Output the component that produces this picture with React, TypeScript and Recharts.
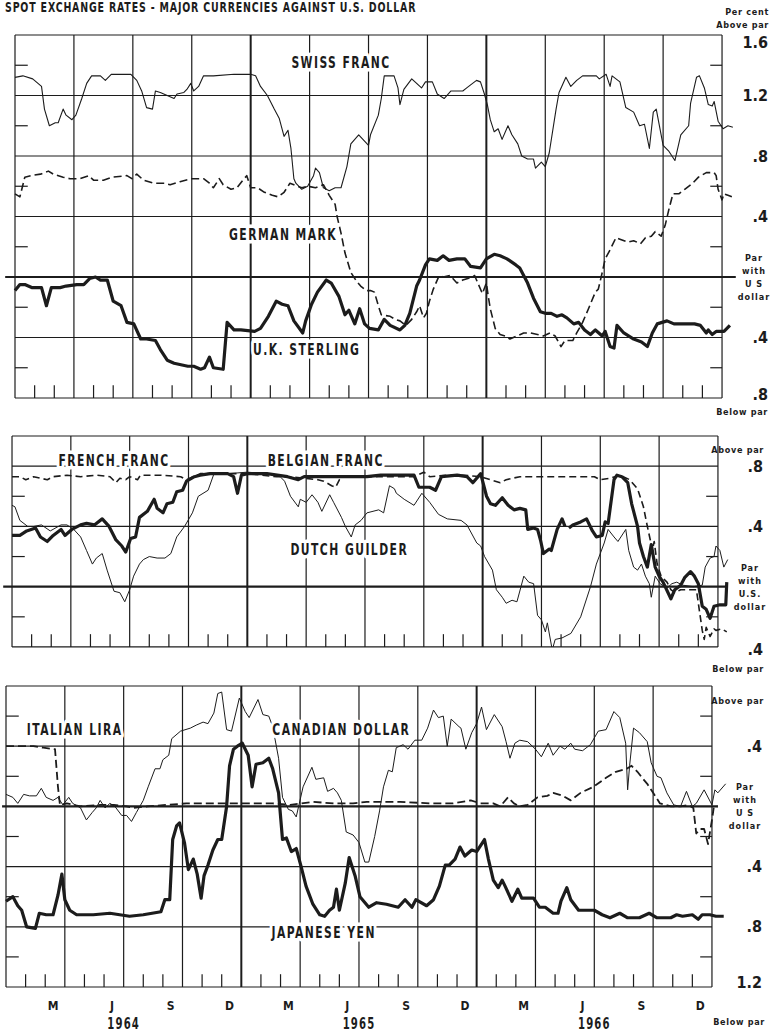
import React from "react";
import { LineChart, Line, XAxis, YAxis, ReferenceLine, ReferenceDot } from "recharts";

const INK = "#1c1c1c";
const FONT = "'Liberation Sans Narrow', 'DejaVu Sans Condensed', 'DejaVu Sans', sans-serif";

// x = months since 1 Jan 1964; y = per cent above (+) or below (-) par with the U.S. dollar
type Pt = [number, number | null];

const gridMonths = [0, 3, 6, 9, 12, 15, 18, 21, 24, 27, 30, 33, 36];
const yearEdges = [12, 24];
const monthLetters = ["M", "J", "S", "D"];
const monthTicks = [2.4, 5.4, 8.4, 11.4, 14.4, 17.4, 20.4, 23.4, 26.4, 29.4, 32.4, 35.4];
const yearLabels = ["1964", "1965", "1966"];
const yearTicks = [6, 18, 30];

const swissFranc: Pt[] = [
  [0, 1.32], [0.4, 1.33], [0.9, 1.31], [1.35, 1.26], [1.5, 1.11], [1.75, 1.0], [2.05, 1.02], [2.2, 1.02],
  [2.45, 1.11], [2.6, 1.07], [2.9, 1.04], [3.1, 1.07], [3.4, 1.18], [3.65, 1.28], [3.9, 1.33], [4.35, 1.33],
  [4.6, 1.3], [4.9, 1.34], [5.9, 1.34], [6.2, 1.3], [6.45, 1.23], [6.7, 1.12], [7.0, 1.11], [7.15, 1.23],
  [7.4, 1.22], [7.75, 1.2], [8.1, 1.18], [8.25, 1.21], [8.6, 1.22], [8.75, 1.24], [8.95, 1.28], [9.1, 1.23],
  [9.35, 1.26], [9.6, 1.33], [10.1, 1.33], [11.15, 1.34], [12.0, 1.34], [12.25, 1.33], [12.5, 1.26],
  [12.85, 1.2], [13.2, 1.11], [13.45, 1.05], [13.7, 0.93], [13.9, 0.97], [14.05, 0.85], [14.2, 0.65],
  [14.3, 0.62], [14.6, 0.58], [14.9, 0.6], [15.2, 0.67], [15.3, 0.72], [15.5, 0.69], [15.7, 0.59],
  [16.0, 0.57], [16.3, 0.59], [16.6, 0.59], [16.9, 0.73], [17.1, 0.88], [17.5, 0.94], [18.0, 0.87],
  [18.1, 0.94], [18.5, 1.07], [18.65, 1.18], [18.8, 1.33], [19.3, 1.33], [19.5, 1.25], [19.6, 1.14],
  [19.8, 1.24], [20.2, 1.31], [20.7, 1.25], [20.9, 1.29], [21.25, 1.29], [21.5, 1.21], [21.85, 1.18],
  [22.2, 1.23], [22.8, 1.23], [23.0, 1.25], [23.5, 1.3], [23.7, 1.29], [23.9, 1.21], [24.05, 1.14],
  [24.2, 1.04], [24.4, 0.96], [24.6, 0.98], [24.8, 0.91], [25.1, 1.0], [25.3, 0.94], [25.6, 0.88],
  [25.8, 0.8], [26.1, 0.78], [26.4, 0.78], [26.5, 0.72], [26.8, 0.76], [27.0, 0.73], [27.2, 0.82],
  [27.55, 1.11], [27.7, 1.22], [28.05, 1.32], [28.3, 1.26], [28.6, 1.3], [28.9, 1.33], [29.6, 1.33],
  [29.75, 1.31], [30.1, 1.34], [30.3, 1.26], [30.4, 1.33], [30.8, 1.29], [31.1, 1.12], [31.5, 1.09],
  [31.8, 1.0], [32.05, 1.01], [32.3, 0.85], [32.5, 1.09], [32.65, 1.11], [33.0, 0.87], [33.3, 0.83],
  [33.6, 0.77], [33.9, 0.94], [34.3, 1.0], [34.4, 1.15], [34.7, 1.32], [34.85, 1.33], [35.1, 1.25],
  [35.3, 1.14], [35.5, 1.13], [35.6, 1.16], [35.8, 1.03], [36.05, 0.98], [36.3, 1.0], [36.55, 0.99],
];

const germanMark: Pt[] = [
  [0, 0.55], [0.25, 0.53], [0.5, 0.66], [0.8, 0.67], [1.3, 0.68], [1.7, 0.7], [1.95, 0.68], [2.45, 0.66],
  [2.8, 0.65], [3.3, 0.65], [3.75, 0.67], [4.0, 0.64], [4.5, 0.64], [4.95, 0.66], [5.7, 0.67], [5.95, 0.65],
  [6.2, 0.68], [6.55, 0.64], [7.05, 0.62], [7.6, 0.62], [7.9, 0.61], [8.4, 0.63], [9.0, 0.65], [9.6, 0.65],
  [9.9, 0.62], [10.1, 0.59], [10.4, 0.65], [10.6, 0.61], [11.0, 0.58], [11.3, 0.59], [11.6, 0.64],
  [11.8, 0.67], [12.0, 0.59], [12.35, 0.59], [12.7, 0.56], [13.1, 0.54], [13.4, 0.53], [13.7, 0.56],
  [14.0, 0.62], [14.2, 0.61], [14.6, 0.59], [14.9, 0.6], [15.3, 0.59], [15.7, 0.61], [16.0, 0.54],
  [16.3, 0.48], [16.4, 0.4], [16.6, 0.29], [16.8, 0.16], [17.1, 0.03], [17.4, -0.03], [17.6, -0.06],
  [17.9, -0.09], [18.1, -0.09], [18.3, -0.1], [18.5, -0.19], [18.65, -0.25], [19.1, -0.26], [19.35, -0.28],
  [19.6, -0.29], [19.9, -0.32], [20.2, -0.28], [20.45, -0.23], [20.6, -0.19], [20.8, -0.27], [20.95, -0.24],
  [21.1, -0.16], [21.3, -0.08], [21.6, 0.01], [21.8, 0.0], [22.15, 0.01], [22.5, -0.04], [22.8, -0.02],
  [23.3, 0.0], [23.4, 0.01], [23.6, -0.05], [23.8, -0.11], [24.0, -0.04], [24.1, -0.13], [24.2, -0.21],
  [24.45, -0.34], [24.7, -0.38], [24.95, -0.39], [25.2, -0.41], [25.55, -0.39], [25.9, -0.37],
  [26.25, -0.37], [26.6, -0.38], [26.9, -0.39], [27.25, -0.37], [27.5, -0.39], [27.8, -0.46], [28.0, -0.42],
  [28.4, -0.42], [28.6, -0.37], [28.9, -0.3], [29.2, -0.21], [29.55, -0.1], [29.7, -0.08], [29.9, 0.03],
  [30.05, 0.12], [30.3, 0.18], [30.6, 0.26], [30.8, 0.25], [31.2, 0.23], [31.5, 0.24], [31.85, 0.22],
  [32.1, 0.26], [32.4, 0.27], [32.6, 0.3], [32.9, 0.27], [33.1, 0.34], [33.3, 0.45], [33.5, 0.55],
  [33.8, 0.55], [34.1, 0.58], [34.5, 0.62], [34.8, 0.66], [35.2, 0.69], [35.6, 0.69], [35.7, 0.67],
  [35.8, 0.58], [36.0, 0.51], [36.1, 0.55], [36.3, 0.54], [36.5, 0.53],
];

const ukSterling: Pt[] = [
  [0, -0.09], [0.25, -0.05], [0.5, -0.05], [0.85, -0.07], [1.35, -0.07], [1.6, -0.19], [1.85, -0.07],
  [2.3, -0.07], [2.6, -0.06], [3.15, -0.05], [3.5, -0.05], [3.8, -0.01], [4.1, 0.0], [4.35, -0.02],
  [4.7, -0.02], [5.0, -0.16], [5.4, -0.19], [5.7, -0.3], [6.05, -0.31], [6.4, -0.41], [6.7, -0.41],
  [7.15, -0.42], [7.4, -0.48], [7.75, -0.55], [8.1, -0.57], [8.8, -0.59], [9.1, -0.59], [9.45, -0.61],
  [9.65, -0.6], [9.9, -0.53], [10.1, -0.6], [10.6, -0.61], [10.8, -0.3], [11.15, -0.35], [11.5, -0.35],
  [12.2, -0.36], [12.5, -0.34], [12.9, -0.26], [13.3, -0.16], [13.6, -0.18], [13.9, -0.19], [14.2, -0.29],
  [14.65, -0.37], [14.8, -0.29], [15.1, -0.18], [15.4, -0.1], [15.85, -0.02], [16.1, -0.04], [16.5, -0.13],
  [16.8, -0.25], [17.0, -0.22], [17.3, -0.31], [17.55, -0.21], [17.8, -0.31], [18.05, -0.34], [18.5, -0.35],
  [18.8, -0.28], [19.1, -0.32], [19.6, -0.35], [19.85, -0.32], [20.1, -0.24], [20.45, -0.06], [20.6, -0.02],
  [20.9, 0.08], [21.1, 0.12], [21.5, 0.11], [21.8, 0.14], [22.1, 0.11], [22.5, 0.12], [22.9, 0.12],
  [23.2, 0.07], [23.7, 0.06], [24.0, 0.12], [24.4, 0.15], [24.7, 0.14], [25.05, 0.12], [25.5, 0.08],
  [25.7, 0.06], [26.1, -0.04], [26.4, -0.14], [26.75, -0.23], [27.0, -0.24], [27.3, -0.24], [27.6, -0.26],
  [27.85, -0.25], [28.1, -0.27], [28.45, -0.31], [28.7, -0.3], [29.0, -0.35], [29.3, -0.38], [29.55, -0.35],
  [29.9, -0.39], [30.05, -0.36], [30.3, -0.46], [30.5, -0.47], [30.65, -0.32], [31.0, -0.37], [31.5, -0.41],
  [31.9, -0.43], [32.2, -0.46], [32.45, -0.37], [32.7, -0.31], [33.2, -0.29], [33.55, -0.31], [33.9, -0.31],
  [34.6, -0.31], [34.9, -0.32], [35.2, -0.37], [35.3, -0.35], [35.5, -0.38], [35.7, -0.36], [36.1, -0.36],
  [36.4, -0.32],
];

const frenchFranc: Pt[] = [
  [0, 0.73], [0.4, 0.73], [0.7, 0.71], [1.1, 0.73], [1.8, 0.71], [2.1, 0.73], [2.8, 0.74], [3.5, 0.73],
  [4.3, 0.74], [5.0, 0.73], [5.3, 0.69], [5.5, 0.72], [5.8, 0.71], [6.0, 0.73], [6.4, 0.71], [6.55, 0.74],
  [7.6, 0.74], [8.6, 0.73], [8.9, 0.71], [9.6, 0.75], [11.0, 0.75], [12.0, 0.75], [13.5, 0.73], [14.2, 0.73],
  [15.6, 0.71], [15.9, 0.7], [16.3, 0.67], [16.5, 0.66], [16.7, 0.71], [16.9, 0.73], [18.8, 0.73],
  [20.5, 0.73], [21.0, 0.76], [21.3, 0.73], [22.2, 0.74], [23.0, 0.74], [23.9, 0.73], [24.4, 0.71],
  [24.9, 0.69], [25.2, 0.71], [25.9, 0.73], [26.8, 0.73], [27.6, 0.73], [29.0, 0.73], [29.7, 0.73],
  [30.0, 0.71], [30.5, 0.72], [31.0, 0.74], [31.5, 0.71], [31.9, 0.65], [32.2, 0.53], [32.4, 0.4],
  [32.55, 0.31], [32.65, 0.24], [32.75, 0.3], [32.9, 0.15], [33.1, 0.07], [33.4, 0.03], [33.6, -0.02],
  [33.8, -0.04], [34.1, -0.02], [34.9, -0.02], [35.2, -0.29], [35.3, -0.35], [35.4, -0.27], [35.6, -0.33],
  [35.8, -0.28], [35.9, -0.29], [36.2, -0.28], [36.45, -0.3],
];

const belgianFranc: Pt[] = [
  [0, 0.34], [0.4, 0.34], [0.75, 0.37], [1.2, 0.39], [1.45, 0.33], [1.8, 0.3], [2.1, 0.34], [2.5, 0.38],
  [2.7, 0.34], [3.05, 0.38], [3.5, 0.41], [3.8, 0.42], [4.2, 0.41], [4.6, 0.45], [4.95, 0.4], [5.3, 0.31],
  [5.6, 0.27], [5.8, 0.23], [6.05, 0.32], [6.3, 0.33], [6.5, 0.46], [6.9, 0.5], [7.25, 0.58], [7.4, 0.52],
  [7.7, 0.49], [7.9, 0.55], [8.2, 0.56], [8.4, 0.63], [8.7, 0.64], [8.9, 0.7], [9.3, 0.73], [9.6, 0.74],
  [10.1, 0.75], [11.0, 0.75], [11.3, 0.73], [11.5, 0.62], [11.7, 0.74], [12.0, 0.75], [13.0, 0.75],
  [14.05, 0.73], [14.6, 0.71], [14.9, 0.73], [15.75, 0.73], [16.4, 0.73], [18.1, 0.73], [18.8, 0.74],
  [20.5, 0.74], [20.75, 0.66], [21.3, 0.66], [21.6, 0.64], [21.9, 0.73], [22.7, 0.74], [23.2, 0.73],
  [23.5, 0.69], [23.9, 0.75], [24.2, 0.6], [24.4, 0.55], [24.65, 0.54], [25.0, 0.59], [25.3, 0.54],
  [25.6, 0.51], [25.9, 0.52], [26.2, 0.51], [26.3, 0.38], [26.6, 0.39], [26.8, 0.38], [26.95, 0.31],
  [27.1, 0.22], [27.4, 0.25], [27.5, 0.24], [27.8, 0.38], [28.05, 0.45], [28.2, 0.4], [28.3, null],
  [28.4, 0.39], [28.6, 0.41], [29.0, 0.43], [29.3, 0.45], [29.6, 0.37], [29.8, 0.33], [30.1, 0.34],
  [30.25, 0.43], [30.4, 0.42], [30.7, 0.71], [30.85, 0.74], [31.1, 0.73], [31.4, 0.69], [31.6, 0.55],
  [31.9, 0.4], [32.0, 0.29], [32.2, 0.2], [32.4, 0.13], [32.6, 0.28], [32.8, 0.13], [33.0, 0.07],
  [33.2, 0.03], [33.6, -0.08], [33.8, -0.02], [34.1, 0.01], [34.3, 0.06], [34.6, 0.1], [34.8, 0.07],
  [35.0, 0.02], [35.2, -0.13], [35.4, -0.15], [35.6, -0.21], [35.8, -0.13], [36.1, -0.12], [36.4, -0.12],
  [36.45, 0.03],
];

const dutchGuilder: Pt[] = [
  [0, 0.54], [0.15, 0.53], [0.4, 0.44], [0.8, 0.4], [1.1, 0.4], [1.5, 0.41], [1.95, 0.37], [2.5, 0.41],
  [2.8, 0.41], [3.15, 0.38], [3.5, 0.33], [3.8, 0.24], [4.1, 0.15], [4.3, 0.19], [4.6, 0.22], [4.85, 0.11],
  [5.2, -0.03], [5.5, -0.04], [5.75, -0.1], [6.0, -0.02], [6.2, 0.07], [6.5, 0.15], [6.7, 0.18], [7.0, 0.2],
  [7.4, 0.19], [7.8, 0.19], [8.1, 0.22], [8.4, 0.33], [8.8, 0.4], [9.2, 0.49], [9.5, 0.6], [10.0, 0.64],
  [10.3, 0.75], [11.0, 0.75], [12.0, 0.76], [13.0, 0.75], [13.6, 0.74], [13.9, 0.7], [14.2, 0.6],
  [14.6, 0.53], [14.7, 0.58], [15.0, 0.56], [15.3, 0.61], [15.6, 0.56], [15.8, 0.5], [16.2, 0.61],
  [16.4, 0.56], [16.8, 0.46], [17.0, 0.4], [17.3, 0.33], [17.5, 0.41], [17.8, 0.44], [18.1, 0.49],
  [18.7, 0.51], [18.95, 0.49], [19.25, 0.67], [19.5, 0.65], [19.6, 0.62], [20.0, 0.58], [20.5, 0.54],
  [20.9, 0.62], [21.3, 0.56], [21.75, 0.48], [22.2, 0.45], [22.9, 0.44], [23.2, 0.41], [23.7, 0.29],
  [23.9, 0.27], [24.1, 0.2], [24.5, 0.11], [24.7, -0.02], [25.0, -0.07], [25.2, -0.11], [25.5, -0.09],
  [25.75, -0.1], [26.1, 0.07], [26.35, 0.03], [26.6, 0.02], [26.8, -0.19], [27.0, -0.22], [27.2, -0.3],
  [27.3, -0.24], [27.55, -0.42], [27.7, -0.35], [28.05, -0.34], [28.5, -0.31], [29.0, -0.2], [29.5, 0.0],
  [29.8, 0.15], [30.2, 0.29], [30.4, 0.38], [30.7, 0.33], [30.9, 0.3], [31.3, 0.38], [31.45, 0.24],
  [31.7, 0.13], [31.9, 0.11], [32.1, 0.15], [32.3, 0.07], [32.5, 0.02], [32.6, -0.07], [32.8, 0.07],
  [33.05, 0.02], [33.4, -0.01], [33.65, 0.02], [33.9, 0.03], [34.2, 0.01], [34.75, 0.0], [35.2, 0.01],
  [35.35, 0.13], [35.6, 0.19], [35.8, 0.2], [35.9, 0.27], [36.1, 0.24], [36.3, 0.13], [36.5, 0.18],
];

const italianLira: Pt[] = [
  [0, 0.4], [0.7, 0.4], [1.4, 0.4], [1.9, 0.39], [2.5, 0.38], [2.65, 0.13], [2.75, 0.01], [3.1, 0.02],
  [3.8, 0.0], [4.8, 0.01], [5.5, 0.01], [6.15, 0.0], [6.5, -0.01], [7.2, 0.0], [8.2, 0.01], [9.2, 0.02],
  [10.2, 0.02], [11.6, 0.02], [12.6, 0.02], [13.6, 0.02], [14.5, 0.01], [15.65, 0.03], [16.7, 0.02],
  [17.7, 0.02], [18.4, 0.03], [20.1, 0.03], [21.6, 0.02], [22.8, 0.02], [23.7, 0.04], [24.2, 0.02],
  [24.85, 0.02], [25.2, 0.0], [25.6, 0.06], [25.9, 0.02], [26.2, 0.0], [26.6, 0.01], [27.1, 0.06],
  [27.6, 0.07], [27.9, 0.09], [28.4, 0.07], [28.8, 0.04], [29.3, 0.09], [29.95, 0.13], [30.6, 0.19],
  [31.1, 0.23], [31.65, 0.25], [31.9, 0.27], [32.2, 0.23], [32.5, 0.18], [32.7, 0.15], [33.0, 0.09],
  [33.35, 0.02], [33.9, 0.0], [34.4, 0.0], [34.8, 0.01], [35.05, -0.01], [35.2, -0.18], [35.4, -0.15],
  [35.6, -0.15], [35.8, -0.25], [36.0, -0.09], [36.1, 0.0], [36.3, 0.0],
];

const canadianDollar: Pt[] = [
  [0, 0.08], [0.35, 0.06], [0.6, 0.02], [0.9, 0.08], [1.2, 0.07], [1.55, 0.07], [1.8, 0.12], [2.05, 0.06],
  [2.4, 0.04], [2.65, 0.06], [2.9, 0.01], [3.2, 0.06], [3.4, 0.02], [3.8, -0.01], [4.1, -0.09], [4.4, -0.04],
  [4.6, -0.01], [4.8, 0.04], [5.05, -0.01], [5.3, 0.02], [5.55, 0.0], [5.9, -0.06], [6.15, -0.06],
  [6.4, -0.1], [6.65, -0.04], [7.0, 0.04], [7.25, 0.13], [7.6, 0.25], [7.85, 0.25], [8.0, 0.31], [8.3, 0.34],
  [8.45, 0.45], [8.9, 0.5], [9.4, 0.52], [9.7, 0.54], [10.05, 0.56], [10.3, 0.55], [10.6, 0.62], [10.8, 0.75],
  [11.0, 0.76], [11.25, 0.51], [11.5, 0.5], [11.9, 0.72], [12.2, 0.63], [12.4, 0.59], [12.85, 0.71],
  [13.1, 0.61], [13.4, 0.6], [13.6, 0.53], [13.9, 0.32], [14.1, 0.06], [14.4, -0.02], [14.6, -0.03],
  [14.8, -0.07], [15.15, 0.13], [15.6, 0.26], [15.8, 0.18], [16.2, 0.19], [16.4, 0.1], [16.7, 0.12],
  [16.9, 0.09], [17.1, 0.04], [17.35, -0.17], [17.7, -0.19], [18.0, -0.24], [18.3, -0.37], [18.5, -0.37],
  [18.8, -0.2], [19.05, -0.03], [19.25, 0.13], [19.5, 0.24], [19.7, 0.23], [19.9, 0.39], [20.25, 0.41],
  [20.5, 0.38], [20.85, 0.44], [21.2, 0.44], [21.5, 0.52], [21.8, 0.64], [22.05, 0.59], [22.3, 0.6],
  [22.5, 0.4], [22.7, 0.58], [23.1, 0.53], [23.2, 0.52], [23.45, 0.38], [23.75, 0.49], [24.0, 0.55],
  [24.25, 0.66], [24.5, 0.51], [24.9, 0.61], [25.3, 0.53], [25.5, 0.43], [25.7, 0.32], [25.95, 0.42],
  [26.2, 0.44], [26.6, 0.43], [27.0, 0.38], [27.3, 0.33], [27.65, 0.42], [27.9, 0.34], [28.25, 0.4],
  [28.5, 0.38], [28.8, 0.42], [29.0, 0.38], [29.4, 0.37], [29.8, 0.41], [30.2, 0.5], [30.6, 0.51],
  [31.0, 0.63], [31.3, 0.59], [31.6, 0.42], [31.7, 0.11], [31.8, 0.27], [32.0, 0.52], [32.3, 0.49],
  [32.7, 0.43], [32.9, 0.29], [33.2, 0.2], [33.4, 0.19], [33.7, 0.09], [34.05, 0.01], [34.4, 0.0],
  [34.7, 0.1], [35.0, 0.0], [35.2, 0.02], [35.6, 0.11], [36.0, 0.01], [36.15, 0.11], [36.3, 0.09],
  [36.7, 0.15],
];

const japaneseYen: Pt[] = [
  [0, -0.63], [0.35, -0.6], [0.6, -0.66], [0.8, -0.69], [1.05, -0.8], [1.5, -0.81], [1.7, -0.71],
  [2.05, -0.72], [2.4, -0.72], [2.65, -0.59], [2.85, -0.45], [3.0, -0.62], [3.25, -0.69], [3.6, -0.72],
  [4.45, -0.72], [5.3, -0.71], [5.8, -0.72], [6.3, -0.73], [7.0, -0.72], [7.9, -0.7], [8.1, -0.62],
  [8.35, -0.62], [8.5, -0.22], [8.7, -0.13], [8.85, -0.11], [9.1, -0.24], [9.3, -0.42], [9.55, -0.35],
  [9.75, -0.45], [9.95, -0.61], [10.1, -0.46], [10.3, -0.39], [10.55, -0.29], [10.8, -0.22], [11.0, -0.22],
  [11.25, 0.0], [11.4, 0.27], [11.6, 0.38], [11.8, 0.4], [12.05, 0.42], [12.35, 0.34], [12.55, 0.13],
  [12.75, 0.28], [13.1, 0.29], [13.4, 0.32], [13.6, 0.25], [13.9, 0.09], [14.1, -0.22], [14.3, -0.21],
  [14.55, -0.3], [14.8, -0.28], [15.05, -0.4], [15.3, -0.53], [15.65, -0.65], [16.0, -0.72], [16.25, -0.73],
  [16.5, -0.69], [16.7, -0.67], [16.85, -0.55], [17.0, -0.69], [17.3, -0.51], [17.5, -0.34], [17.8, -0.46],
  [18.05, -0.6], [18.5, -0.67], [18.9, -0.64], [19.4, -0.65], [20.0, -0.67], [20.35, -0.62], [20.7, -0.67],
  [20.9, -0.62], [21.45, -0.66], [21.8, -0.62], [22.1, -0.53], [22.4, -0.39], [22.6, -0.39], [22.9, -0.35],
  [23.15, -0.27], [23.4, -0.33], [23.75, -0.29], [24.0, -0.3], [24.4, -0.22], [24.6, -0.35], [24.85, -0.49],
  [25.1, -0.54], [25.3, -0.49], [25.45, -0.53], [25.8, -0.63], [26.1, -0.55], [26.3, -0.61], [26.9, -0.61],
  [27.2, -0.67], [27.5, -0.67], [27.9, -0.71], [28.15, -0.71], [28.3, -0.63], [28.6, -0.54], [28.8, -0.62],
  [29.2, -0.69], [30.0, -0.69], [30.4, -0.72], [30.8, -0.74], [31.3, -0.71], [31.7, -0.74], [32.3, -0.74],
  [32.8, -0.71], [33.2, -0.74], [33.9, -0.74], [34.2, -0.72], [34.5, -0.73], [35.0, -0.72], [35.3, -0.75],
  [35.5, -0.72], [35.9, -0.72], [36.2, -0.73], [36.6, -0.73],
];

type Series = { name: string; pts: Pt[]; w: number; dash?: string };
type Tag = { text: string; x: number; y: number };
type Note = { text: string; right: number; y: number };
type Panel = {
  top: number; x0: number; xs: number; xMin: number;
  yMin: number; yMax: number; ppu: number;
  majors: number[]; minors: number[]; ticks: number[];
  parFrom: number; parTo: number;
  labelRight: number; parCenter: number; parWords: string[];
  topShift: number; bottomShift: number;
  series: Series[]; tags: Tag[]; notes: Note[]; axis?: boolean;
};

const panels: Panel[] = [
  {
    top: 35, x0: 15, xs: 19.64, xMin: -0.6, yMin: -0.8, yMax: 1.6, ppu: 151.25,
    majors: [-0.8, -0.4, 0.4, 0.8, 1.2, 1.6], minors: [-0.6, -0.2, 0.2, 0.6, 1.0, 1.4],
    ticks: [-0.8, -0.4, 0, 0.4, 0.8, 1.2, 1.6], parFrom: -0.5, parTo: 36.7,
    labelRight: 768, parCenter: 754, parWords: ["Par", "with", "U S", "dollar"], topShift: 7, bottomShift: -4,
    series: [
      { name: "Swiss franc", pts: swissFranc, w: 1.1 },
      { name: "German mark", pts: germanMark, w: 1.6, dash: "8 4" },
      { name: "U.K. sterling", pts: ukSterling, w: 3.2 },
    ],
    tags: [
      { text: "SWISS FRANC", x: 16.6, y: 1.42 },
      { text: "GERMAN MARK", x: 13.65, y: 0.28 },
      { text: "U.K. STERLING", x: 14.85, y: -0.48 },
    ],
    notes: [
      { text: "Per cent", right: 769, y: 12 },
      { text: "Above par", right: 769, y: 25 },
      { text: "Below par", right: 768, y: 412 },
    ],
  },
  {
    top: 436, x0: 12, xs: 19.61, xMin: -0.6, yMin: -0.4, yMax: 1.0, ppu: 150.7,
    majors: [-0.4, 0.4, 0.8, 1.0], minors: [-0.2, 0.2, 0.6],
    ticks: [-0.4, 0, 0.4, 0.8], parFrom: -0.45, parTo: 36.4,
    labelRight: 763, parCenter: 750, parWords: ["Par", "with", "U.S.", "dollar"], topShift: 0, bottomShift: 3,
    series: [
      { name: "French franc", pts: frenchFranc, w: 1.6, dash: "7 4" },
      { name: "Dutch guilder", pts: dutchGuilder, w: 1.0 },
      { name: "Belgian franc", pts: belgianFranc, w: 3.2 },
    ],
    tags: [
      { text: "FRENCH FRANC", x: 5.2, y: 0.84 },
      { text: "BELGIAN FRANC", x: 16.0, y: 0.84 },
      { text: "DUTCH GUILDER", x: 17.2, y: 0.245 },
    ],
    notes: [
      { text: "Above par", right: 764, y: 450 },
      { text: "Below par", right: 764, y: 669 },
    ],
  },
  {
    top: 686, x0: 6, xs: 19.61, xMin: -0.3, yMin: -1.2, yMax: 0.8, ppu: 150.5,
    majors: [-1.2, -0.8, -0.4, 0.4, 0.8], minors: [-1.0, -0.6, -0.2, 0.2, 0.6],
    ticks: [-1.2, -0.8, -0.4, 0, 0.4], parFrom: -0.2, parTo: 36.3,
    labelRight: 762, parCenter: 745, parWords: ["Par", "with", "U S", "dollar"], topShift: 0, bottomShift: -5,
    series: [
      { name: "Italian lira", pts: italianLira, w: 1.8, dash: "8 4" },
      { name: "Canadian dollar", pts: canadianDollar, w: 1.0 },
      { name: "Japanese yen", pts: japaneseYen, w: 3.2 },
    ],
    tags: [
      { text: "ITALIAN LIRA", x: 3.5, y: 0.51 },
      { text: "CANADIAN DOLLAR", x: 17.1, y: 0.51 },
      { text: "JAPANESE YEN", x: 16.2, y: -0.84 },
    ],
    notes: [
      { text: "Above par", right: 764, y: 701 },
      { text: "Below par", right: 765, y: 1022 },
    ],
    axis: true,
  },
];

const PAD = 12;
const X_MAX = 37;
const AXIS_H = 47;
const NARROW = 0.8; // horizontal squeeze for the condensed lettering

function valueText(v: number) {
  const s = Math.abs(v).toFixed(1);
  return s.startsWith("0") ? s.slice(1) : s;
}

function PanelChart({ p }: { p: Panel }) {
  const plotLeft = p.x0 + p.xMin * p.xs;
  const plotRight = p.x0 + X_MAX * p.xs;
  const plotH = (p.yMax - p.yMin) * p.ppu;
  const height = PAD + plotH + (p.axis ? AXIS_H : PAD);
  const line = { stroke: INK, strokeWidth: 1.2 };
  const minorMonths = gridMonths.slice(0, -1).flatMap((m) => [m + 1, m + 2]);

  const valueTick = (props: any) => {
    const { y, payload } = props;
    const v = payload.value;
    if (v === 0) {
      return (
        <g>
          {p.parWords.map((w, i) => (
            <text key={w} x={p.parCenter} y={y - 16 + i * 13} textAnchor="middle" fontFamily={FONT}
              fontSize={9} fontWeight={700} letterSpacing={1} fill={INK}>{w}</text>
          ))}
        </g>
      );
    }
    const dy = 5.5 + (v === p.yMax ? p.topShift : 0) + (v === p.yMin ? p.bottomShift : 0);
    return (
      <text x={p.labelRight} y={y + dy} textAnchor="end" fontFamily={FONT} fontSize={16}
        fontWeight={700} fill={INK}>{valueText(v)}</text>
    );
  };

  const monthTick = (props: any) => {
    const { x, y, payload } = props;
    const yi = yearTicks.indexOf(payload.value);
    if (yi >= 0) {
      return (
        <text transform={`translate(${x} ${y + 42}) scale(0.75 1)`} textAnchor="middle" fontFamily={FONT}
          fontSize={15} fontWeight={700} letterSpacing={1.5} fill={INK}>{yearLabels[yi]}</text>
      );
    }
    const mi = monthTicks.indexOf(payload.value);
    return (
      <text x={x} y={y + 23} textAnchor="middle" fontFamily={FONT} fontSize={12} fontWeight={700}
        fill={INK}>{monthLetters[mi % 4]}</text>
    );
  };

  return (
    <div style={{ position: "absolute", left: 0, top: p.top - PAD }}>
      <LineChart width={772} height={height}
        margin={{ top: PAD, right: 0, bottom: p.axis ? 0 : PAD, left: plotLeft }}>
        <XAxis type="number" dataKey="t" domain={[p.xMin, X_MAX]} allowDataOverflow hide={!p.axis}
          ticks={[...monthTicks, ...yearTicks].sort((a, b) => a - b)} interval={0} tick={monthTick}
          axisLine={false} tickLine={false} tickSize={0} tickMargin={0} height={AXIS_H} />
        <YAxis orientation="right" type="number" domain={[p.yMin, p.yMax]} allowDataOverflow
          ticks={p.ticks} interval={0} width={772 - plotRight} axisLine={false} tickLine={false}
          tickSize={0} tick={valueTick} />

        {p.majors.map((v) => (
          <ReferenceLine key={`h${v}`} segment={[{ x: 0, y: v }, { x: 36, y: v }]} {...line} />
        ))}
        {gridMonths.map((m) => (
          <ReferenceLine key={`v${m}`} segment={[{ x: m, y: p.yMin }, { x: m, y: p.yMax }]}
            stroke={INK} strokeWidth={yearEdges.includes(m) ? 2 : 1.2} />
        ))}
        {p.minors.flatMap((v) => [
          <ReferenceLine key={`l${v}`} segment={[{ x: 0, y: v }, { x: 0.65, y: v }]} {...line} />,
          <ReferenceLine key={`r${v}`} segment={[{ x: 35.4, y: v }, { x: 36, y: v }]} {...line} />,
        ])}
        {minorMonths.map((m) => (
          <ReferenceLine key={`b${m}`} segment={[{ x: m, y: p.yMin }, { x: m, y: p.yMin + 0.085 }]} {...line} />
        ))}
        <ReferenceLine segment={[{ x: p.parFrom, y: 0 }, { x: p.parTo, y: 0 }]} stroke={INK} strokeWidth={2.2} />

        {p.tags.map((t) => (
          <ReferenceDot key={t.text} x={t.x} y={t.y} r={1} fill="none" stroke="none"
            shape={(s: any) => (
              <text transform={`translate(${s.cx} ${s.cy + 5.5}) scale(${NARROW} 1)`} textAnchor="middle"
                fontFamily={FONT} fontSize={15} fontWeight={700} letterSpacing={1.8} fill={INK}
                stroke="#fff" strokeWidth={7} paintOrder="stroke" strokeLinejoin="round">{t.text}</text>
            )} />
        ))}

        {p.series.map((s) => (
          <Line key={s.name} name={s.name} data={s.pts.map(([t, v]) => ({ t, v }))} dataKey="v"
            type="linear" stroke={INK} strokeWidth={s.w} strokeDasharray={s.dash} dot={false}
            activeDot={false} strokeLinejoin="round" isAnimationActive={false} />
        ))}
      </LineChart>
      {p.notes.map((n) => (
        <div key={n.text + n.y} style={{
          position: "absolute", right: 772 - n.right, top: n.y - 6 - (p.top - PAD), fontFamily: FONT,
          fontSize: 9, fontWeight: 700, letterSpacing: 0.7, lineHeight: "12px", color: INK, whiteSpace: "nowrap",
        }}>{n.text}</div>
      ))}
    </div>
  );
}

export default function App() {
  return (
    <div style={{ position: "absolute", left: 0, top: 0, width: 772, height: 1034, overflow: "hidden", background: "#fff" }}>
      <div style={{
        position: "absolute", left: 5, top: 0, fontFamily: FONT, fontSize: 14, fontWeight: 700,
        letterSpacing: 1.1, color: INK, whiteSpace: "nowrap", lineHeight: "14px",
        transform: "scaleX(0.75)", transformOrigin: "0 0",
      }}>SPOT EXCHANGE RATES - MAJOR CURRENCIES AGAINST U.S. DOLLAR</div>
      {panels.map((p) => <PanelChart key={p.top} p={p} />)}
    </div>
  );
}
